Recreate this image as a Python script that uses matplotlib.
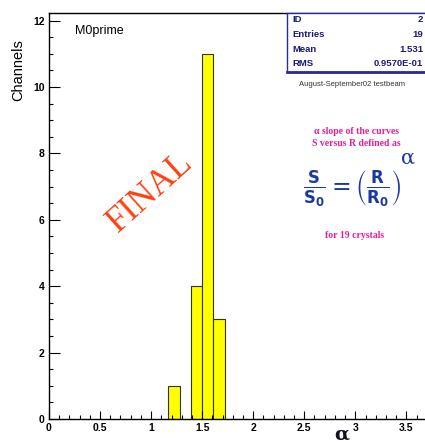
import matplotlib.pyplot as plt
from matplotlib.patches import Rectangle
from matplotlib.ticker import MultipleLocator

# histogram contents (alpha slope per crystal)
bin_left = [1.17, 1.39, 1.50, 1.61]
bin_width = 0.11
counts = [1, 4, 11, 3]

stat_names = ['ID', 'Entries', 'Mean', 'RMS']
stat_values = ['2', '19', '1.531', '0.9570E-01']

W, H = 425, 443
fig = plt.figure(figsize=(W / 100, H / 100), dpi=100)

def fx(px):
    return px / W

def fy(py):
    return 1 - py / H

ax = fig.add_axes([fx(49), fy(419), 388 / W, 406 / H])
ax.bar(bin_left, counts, width=bin_width, align='edge',
       color='#ffff00', edgecolor='#333300', linewidth=0.8)

ax.set_xlim(0, 3.8)
ax.set_ylim(0, 12.23)
ax.xaxis.set_major_locator(MultipleLocator(0.5))
ax.xaxis.set_minor_locator(MultipleLocator(0.1))
ax.yaxis.set_major_locator(MultipleLocator(2))
ax.yaxis.set_minor_locator(MultipleLocator(0.5))
ax.set_xticks([0, 0.5, 1, 1.5, 2, 2.5, 3, 3.5])
ax.set_xticklabels(['0', '0.5', '1', '1.5', '2', '2.5', '3', '3.5'])
ax.tick_params(which='both', direction='in', width=0.8, colors='black',
               labelsize=7.5, pad=3)
ax.tick_params(which='major', length=6)
ax.tick_params(which='minor', length=3)
ax.tick_params(axis='y', which='major', length=8)
for lab in ax.get_xticklabels() + ax.get_yticklabels():
    lab.set_fontfamily('Liberation Sans')
    lab.set_fontweight('bold')
for s in ['left', 'bottom', 'top']:
    ax.spines[s].set_linewidth(1.0)
ax.spines['right'].set_visible(False)

fig.text(fx(18), fy(70), 'Channels', rotation=90, ha='center', va='center',
         fontsize=10.5, family='Liberation Sans')
fig.text(fx(342), fy(444), 'α', ha='center', va='bottom',
         fontsize=14, fontweight='bold', color='#111122', family='DejaVu Serif')
fig.text(fx(75), fy(31), 'M0prime', ha='left', va='center',
         fontsize=9, family='Liberation Sans')

# statistics box
fig.patches.append(Rectangle((fx(287), fy(72)), fx(150), 59 / H,
                             transform=fig.transFigure, facecolor='white',
                             edgecolor='#2a2a9a', linewidth=1.0))
fig.add_artist(plt.Line2D([fx(287), fx(440)], [fy(72), fy(72)],
                          transform=fig.transFigure, color='#2a2a9a',
                          linewidth=2))
for i, (nm, val) in enumerate(zip(stat_names, stat_values)):
    yy = fy(20 + i * 14.5)
    fig.text(fx(292), yy, nm, ha='left', va='center', fontsize=6.8,
             fontweight='bold', color='#1a1a7a', family='Liberation Sans')
    fig.text(fx(423), yy, val, ha='right', va='center', fontsize=6.8,
             fontweight='bold', color='#1a1a7a', family='Liberation Sans')

fig.text(fx(352), fy(84), 'August-September02 testbeam', ha='center',
         va='center', fontsize=5.5, color='#333333', family='Liberation Sans')

magenta = '#e0209a'
fig.text(fx(356), fy(131), 'α slope of the curves', ha='center',
         va='center', fontsize=7, color=magenta, family='Liberation Serif',
         fontweight='bold')
fig.text(fx(356), fy(143), 'S versus R defined as', ha='center',
         va='center', fontsize=7, color=magenta, family='Liberation Serif',
         fontweight='bold')
plt.rcParams['mathtext.fontset'] = 'dejavusans'
fig.text(fx(352), fy(188), r'$\mathbf{\frac{S}{S_0}}=\left(\mathbf{\frac{R}{R_0}}\right)$',
         ha='center', va='center', fontsize=17, color='#1a3aa0')
fig.text(fx(408), fy(158), 'α', ha='center', va='center',
         fontsize=15, color='#1a3aa0', family='DejaVu Serif')
fig.text(fx(355), fy(236), 'for 19 crystals', ha='center', va='center',
         fontsize=7, color=magenta, family='Liberation Serif',
         fontweight='bold')

fig.text(fx(150), fy(192), 'FINAL', rotation=42, ha='center', va='center',
         fontsize=25, color='#ff4010', family='Liberation Serif')

fig.savefig('out.png', dpi=100)
